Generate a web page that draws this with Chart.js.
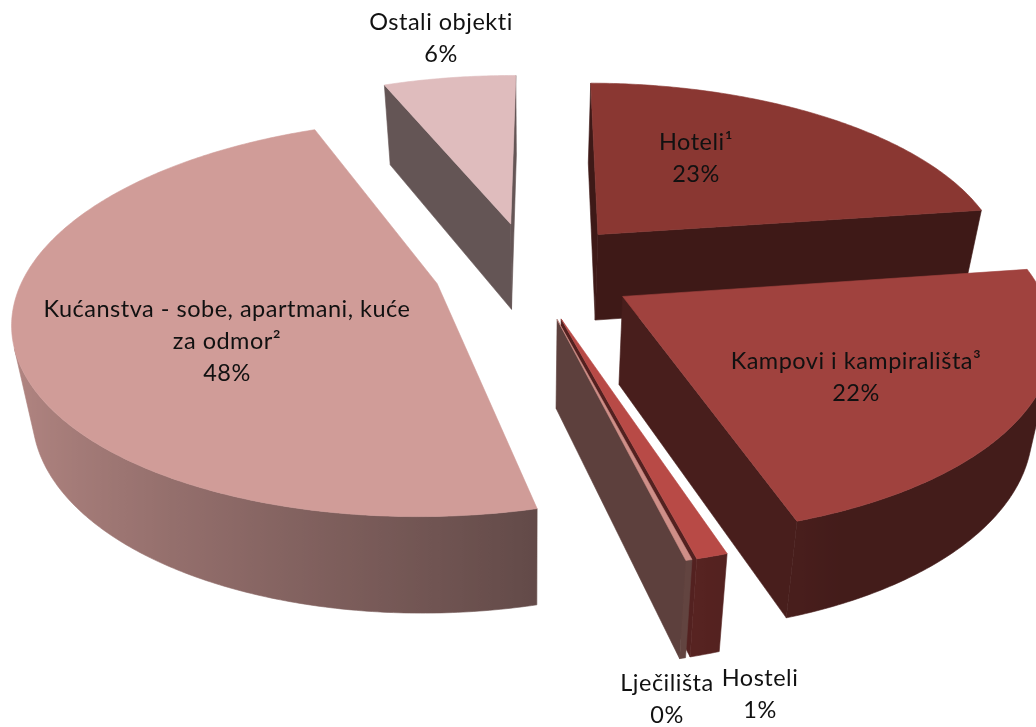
<!DOCTYPE html>
<html>
<head>
<meta charset="utf-8">
<title>Smještajni objekti</title>
<script src="https://cdn.jsdelivr.net/npm/chart.js@4"></script>
<style>
  html, body { margin: 0; padding: 0; background: #fff; }
  canvas { display: block; }
</style>
</head>
<body>
<canvas id="pie3d" width="1036" height="727"></canvas>
<script>
// podaci
const categories = ['Hoteli¹', 'Kampovi i kampirališta³', 'Hosteli', 'Lječilišta', 'Kućanstva - sobe, apartmani, kuće\nza odmor²', 'Ostali objekti'];
const shares = [22.8, 22.4, 1, 0.2, 48, 6.3];
const sliceColors = ['#8a3732', '#a0423e', '#b84a46', '#cf8f88', '#d09c98', '#dfbcbd'];
const explode = [62, 62, 62, 62, 56, 62];

// gdje stoji tekst (sredina prvog reda)
const labelSpots = [[696, 142], [856, 361], [760, 678], [667, 683], [227, 309], [441, 22]];

// izgled 3D kolača
const widen = 1.72, flatten = 0.787, perspective = 0.17, shrink = 0.96, depth = 87;

function project(el, x, y, low) {
    const s = 1 / (1 - perspective * y);
    const k = low ? s * shrink : s;
    return [
        el.x + x * el.outerRadius * widen * k,
        el.y + y * el.outerRadius * flatten * k + (low ? depth * s : 0)
    ];
}

function shade(hex, f) {
    const n = parseInt(hex.slice(1), 16);
    return 'rgb(' + Math.round((n >> 16) * f) + ',' + Math.round(((n >> 8) & 255) * f) + ',' + Math.round((n & 255) * f) + ')';
}

function fillPoly(ctx, pts, color) {
    ctx.beginPath();
    pts.forEach((p, i) => i ? ctx.lineTo(p[0], p[1]) : ctx.moveTo(p[0], p[1]));
    ctx.closePath();
    ctx.fillStyle = color;
    ctx.strokeStyle = color;
    ctx.lineWidth = 0.6;
    ctx.fill();
    ctx.stroke();
}

// zid je vidljiv ako je okrenut prema gledatelju
function wallQuad(el, a, b) {
    const q = [project(el, a[0], a[1]), project(el, b[0], b[1]), project(el, b[0], b[1], true), project(el, a[0], a[1], true)];
    let area = 0;
    q.forEach((p, i) => {
        const n = q[(i + 1) % 4];
        area += p[0] * n[1] - n[0] * p[1];
    });
    return area < 0 ? q : null;
}

function wallShade(color, c) {
    return shade(color, Math.max(0.42, 0.55 - 0.32 * c));
}

// vanjski zid kao jedan lik s gradijentom, bez pruga
function drawRim(ctx, el, rim, color) {
    const upper = [], lower = [], tones = [];
    for (let i = 0; i < rim.length - 1; i++) {
        const q = wallQuad(el, rim[i], rim[i + 1]);
        if (!q) continue;
        if (!upper.length) {
            upper.push(q[0]);
            lower.push(q[3]);
            tones.push(Math.cos(rim[i][2]));
        }
        upper.push(q[1]);
        lower.push(q[2]);
        tones.push(Math.cos(rim[i + 1][2]));
    }
    if (!upper.length) return;
    const xs = upper.map(p => p[0]);
    const minX = Math.min(...xs), maxX = Math.max(...xs);
    const grad = ctx.createLinearGradient(minX, 0, maxX, 0);
    upper.forEach((p, i) => grad.addColorStop(maxX > minX ? (p[0] - minX) / (maxX - minX) : 0, wallShade(color, tones[i])));
    fillPoly(ctx, upper.concat(lower.reverse()), grad);
}

function drawSlice(ctx, el, color) {
    const mid = (el.startAngle + el.endAngle) / 2;
    const d = el.options.offset / el.outerRadius;
    const apex = [Math.cos(mid) * d, Math.sin(mid) * d];
    const steps = Math.max(2, Math.ceil((el.endAngle - el.startAngle) * 90));
    const rim = [];
    for (let i = 0; i <= steps; i++) {
        const a = el.startAngle + (el.endAngle - el.startAngle) * i / steps;
        rim.push([apex[0] + Math.cos(a), apex[1] + Math.sin(a), a]);
    }
    const first = wallQuad(el, apex, rim[0]);
    if (first) fillPoly(ctx, first, shade(color, 0.45));
    const last = wallQuad(el, rim[steps], apex);
    if (last) fillPoly(ctx, last, shade(color, 0.45));
    drawRim(ctx, el, rim, color);
    const top = [project(el, apex[0], apex[1])].concat(rim.map(p => project(el, p[0], p[1])));
    fillPoly(ctx, top, color);
}

const pie3d = {
    id: 'pie3d',
    beforeDatasetDraw(chart) {
        const ctx = chart.ctx;
        const arcs = chart.getDatasetMeta(0).data;
        const order = arcs.map((el, i) => i).sort((a, b) =>
            Math.sin((arcs[a].startAngle + arcs[a].endAngle) / 2) - Math.sin((arcs[b].startAngle + arcs[b].endAngle) / 2));
        order.forEach(i => drawSlice(ctx, arcs[i], sliceColors[i]));
        return false;
    },
    afterDatasetsDraw(chart) {
        const ctx = chart.ctx;
        ctx.fillStyle = '#111';
        ctx.font = '23.5px Lato';
        ctx.letterSpacing = '0.5px';
        ctx.textAlign = 'center';
        ctx.textBaseline = 'middle';
        categories.forEach((name, i) => {
            const lines = name.split('\n').concat(Math.round(shares[i]) + '%');
            lines.forEach((t, j) => ctx.fillText(t, labelSpots[i][0], labelSpots[i][1] + j * 32));
        });
    }
};

new Chart(document.getElementById('pie3d'), {
    type: 'pie',
    data: {
        labels: categories,
        datasets: [{ data: shares, backgroundColor: sliceColors, offset: explode, borderWidth: 0 }]
    },
    options: {
        responsive: false,
        animation: false,
        rotation: 0.4,
        layout: { padding: { left: 24, bottom: 187 } },
        plugins: { legend: { display: false }, tooltip: { enabled: false } }
    },
    plugins: [pie3d]
});
</script>
</body>
</html>
